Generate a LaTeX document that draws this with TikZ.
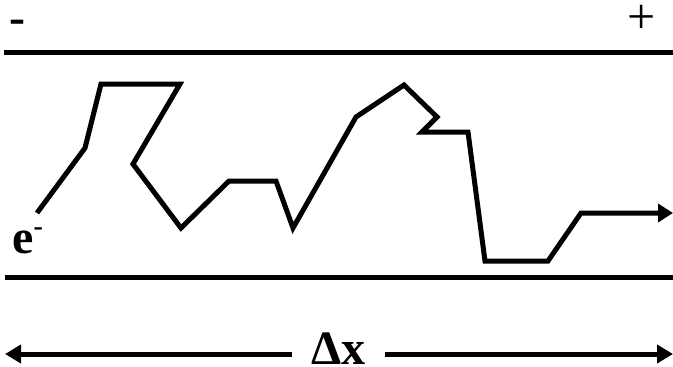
\documentclass[tikz,border=0pt]{standalone}
\usepackage{fontspec}
\setmainfont{Liberation Serif}
\usetikzlibrary{arrows.meta}
\begin{document}
\begin{tikzpicture}[x=1pt,y=-1pt,
  heavy/.style={line width=5pt},
  bigtext/.style={inner sep=0pt,font=\fontsize{48}{50}\selectfont\bfseries},
  tip/.style={-{Triangle[length=16pt,width=18pt]}}]
\useasboundingbox (0,0) rectangle (673,367);
% plates
\coordinate (tl) at (4,52.5);   \coordinate (tr) at (673,52.5);
\coordinate (bl) at (5,277);    \coordinate (br) at (673,277);
\draw[heavy] (tl) -- (tr);
\draw[heavy] (bl) -- (br);
% signs
\node[bigtext,anchor=base west] (minus) at (9,33) {-};
\node[inner sep=0pt,font=\fontsize{50}{52}\selectfont,anchor=base west] (plus) at (627.5,33) {+};
% electron
\node[bigtext,anchor=base west] (e) at (12,253) {e\raisebox{18pt}{\fontsize{28}{28}\selectfont -}};
% random path
\coordinate (p1) at (37,213);
\coordinate (p2) at (85,148);
\coordinate (p3) at (101,84);
\coordinate (p4) at (180,84);
\coordinate (p5) at (133,164);
\coordinate (p6) at (181,228);
\coordinate (p7) at (229,181);
\coordinate (p8) at (276,181);
\coordinate (p9) at (293,228);
\coordinate (p10) at (356,117);
\coordinate (p11) at (404,85);
\coordinate (p12) at (437,117);
\coordinate (p13) at (422,132);
\coordinate (p14) at (468,132);
\coordinate (p15) at (485,261);
\coordinate (p16) at (548,261);
\coordinate (p17) at (581,213);
\coordinate (p18) at (673,213);
\draw[heavy,-{Triangle[length=15pt,width=18pt]}] (p1) -- (p2) -- (p3) -- (p4) -- (p5) -- (p6) -- (p7) -- (p8) -- (p9) -- (p10) -- (p11) -- (p12) -- (p13) -- (p14) -- (p15) -- (p16) -- (p17) -- (p18);
% delta x
\node[bigtext,anchor=base west] (dx) at (311,364) {Δx};
\coordinate (al) at (5,354);
\coordinate (ar) at (673,354);
\draw[heavy,tip,shorten <=19pt] (dx.west |- al) -- (al);
\draw[heavy,tip,shorten <=20pt] (dx.east |- ar) -- (ar);
\end{tikzpicture}
\end{document}
